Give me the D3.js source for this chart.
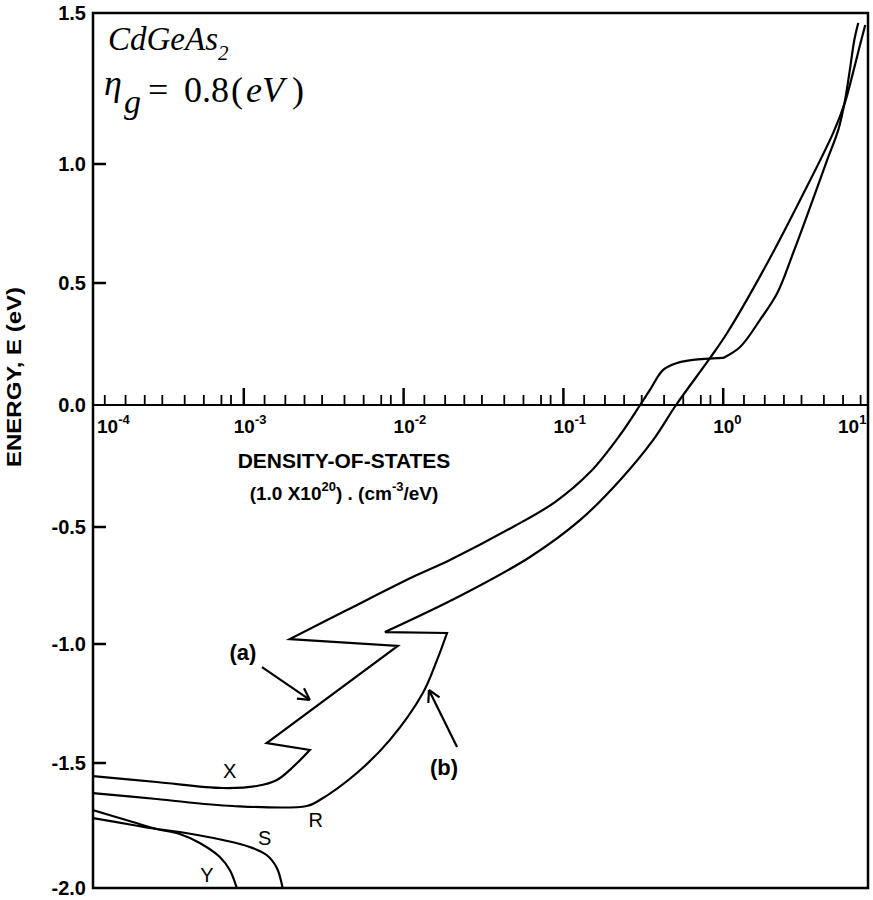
<!DOCTYPE html>
<html>
<head>
<meta charset="utf-8">
<script src="https://cdn.jsdelivr.net/npm/d3@7"></script>
<style>
  body { margin: 0; background: #fff; }
  svg { display: block; }
</style>
</head>
<body>
<div id="chart"></div>
<script>
// density of states (units of 1e20 cm^-3/eV) against energy (eV)
// a point given twice is a sharp corner of the drawn curve

// curve (a), passes the X label and runs up to the top right
const curveA = [
  [1.132e-4, -1.552], [2.85e-4, -1.576], [7.38e-4, -1.600], [1.205e-3, -1.592],
  [1.61e-3, -1.568], [2.03e-3, -1.516], [2.59e-3, -1.445], [2.59e-3, -1.445],
  [1.39e-3, -1.416], [1.39e-3, -1.416], [9.2e-3, -1.008], [9.2e-3, -1.008],
  [1.94e-3, -0.979], [1.94e-3, -0.979], [4.42e-3, -0.855], [1.14e-2, -0.714],
  [1.95e-2, -0.641], [4.83e-2, -0.500], [8.86e-2, -0.398], [0.147, -0.275],
  [0.226, -0.123], [0.302, 0.0], [0.348, 0.062], [0.421, 0.144], [0.514, 0.172],
  [0.647, 0.185], [1.0, 0.193], [1.0, 0.193], [1.276, 0.238], [1.70, 0.349],
  [2.18, 0.459], [2.74, 0.626], [3.50, 0.819], [4.47, 1.013], [5.25, 1.113],
  [5.79, 1.212], [6.24, 1.321], [6.61, 1.410], [7.0, 1.467]
];

// curve (b), passes the R corner
const curveB = [
  [1.132e-4, -1.620], [2.85e-4, -1.644], [8.53e-4, -1.672], [2.48e-3, -1.672],
  [2.99e-3, -1.648], [5.10e-3, -1.540], [8.21e-3, -1.403], [1.32e-2, -1.206],
  [1.62e-2, -1.067], [1.87e-2, -0.953], [1.87e-2, -0.953],
  [7.64e-3, -0.949], [7.64e-3, -0.949], [2.25e-2, -0.795],
  [6.18e-2, -0.628], [0.127, -0.472], [0.226, -0.308], [0.364, -0.144], [0.507, 0.0],
  [0.828, 0.193], [1.058, 0.295], [1.83, 0.567], [3.03, 0.849], [4.88, 1.103],
  [5.79, 1.205], [6.51, 1.305], [7.10, 1.384], [7.74, 1.460]
];

const curveY = [
  [1.132e-4, -1.688], [2.02e-4, -1.736], [2.85e-4, -1.764], [3.97e-4, -1.784],
  [5.30e-4, -1.820], [7.08e-4, -1.876], [8.17e-4, -1.928], [9.04e-4, -2.0]
];

const curveS = [
  [1.132e-4, -1.720], [2.02e-4, -1.748], [2.85e-4, -1.764], [3.97e-4, -1.776],
  [7.39e-4, -1.808], [1.09e-3, -1.836], [1.39e-3, -1.868], [1.61e-3, -1.920], [1.75e-3, -2.0]
];

const yTicks = [-2.0, -1.5, -1.0, -0.5, 0.0, 0.5, 1.0, 1.5];
const decades = [-4, -3, -2, -1, 0, 1];
// hand-drawn minor ticks sit at roughly these fractions of each decade
const minorOffsets = [0.13, 0.26, 0.38, 0.49, 0.63, 0.75, 0.86, 0.92];

// curve labels: [text, density, energy]
const curveLabels = [
  ['X', 8.17e-4, -1.56], ['R', 2.82e-3, -1.756],
  ['S', 1.35e-3, -1.828], ['Y', 5.87e-4, -1.976]
];
const arrowLabels = [
  ['(a)', 9.86e-4, -1.067], ['(b)', 1.79e-2, -1.548]
];
// arrows: tail then tip
const arrows = [
  [[1.30e-3, -1.097], [2.59e-3, -1.235]],
  [[2.16e-2, -1.433], [1.44e-2, -1.193]]
];

const W = 873, H = 900;
const plotL = 93, plotR = 868, plotT = 13, plotB = 888;

const svg = d3.select('#chart').append('svg')
  .attr('width', W).attr('height', H)
  .style('font-family', 'Liberation Sans, Arial, sans-serif');

const x = d3.scaleLog().domain([1e-4, 10]).range([84, 883]);
// the printed energy axis is not evenly spaced, so map it tick by tick
const y = d3.scaleLinear().domain(yTicks).range([888, 763, 644, 527, 405, 283, 164, 13]);

svg.append('clipPath').attr('id', 'clip')
  .append('rect').attr('x', plotL).attr('y', plotT)
  .attr('width', plotR - plotL).attr('height', plotB - plotT);

// frame
svg.append('rect')
  .attr('x', plotL).attr('y', plotT)
  .attr('width', plotR - plotL).attr('height', plotB - plotT)
  .attr('fill', 'none').attr('stroke', '#000').attr('stroke-width', 2.5);

// y ticks and labels
svg.selectAll('.ytick')
  .data(yTicks.filter(v => v !== 0 && v !== -2 && v !== 1.5))
  .enter().append('line')
  .attr('x1', plotL).attr('x2', plotL + 13)
  .attr('y1', d => y(d)).attr('y2', d => y(d))
  .attr('stroke', '#000').attr('stroke-width', 2.5);

svg.selectAll('.ylab')
  .data(yTicks)
  .enter().append('text')
  .attr('x', 86).attr('y', d => y(d)).attr('dy', '0.36em')
  .attr('text-anchor', 'end')
  .style('font-size', '20px').style('font-weight', 'bold')
  .text(d => d.toFixed(1));

svg.append('text')
  .attr('transform', 'translate(21,377) rotate(-90)')
  .attr('text-anchor', 'middle')
  .attr('textLength', 180).attr('lengthAdjust', 'spacingAndGlyphs')
  .style('font-size', '21px').style('font-weight', 'bold')
  .text('ENERGY, E (eV)');

// x axis drawn along E = 0
const y0 = y(0);
svg.append('line')
  .attr('x1', plotL).attr('x2', plotR).attr('y1', y0).attr('y2', y0)
  .attr('stroke', '#000').attr('stroke-width', 2.2);

const majors = decades.map(d => Math.pow(10, d)).filter(v => x(v) > plotL && x(v) < plotR);
const minors = [];
decades.forEach(d => minorOffsets.forEach(o => minors.push(Math.pow(10, d + o))));

svg.selectAll('.minor')
  .data(minors.filter(v => x(v) > plotL + 4 && x(v) < plotR - 4))
  .enter().append('line')
  .attr('x1', d => x(d)).attr('x2', d => x(d))
  .attr('y1', y0).attr('y2', y0 - 10)
  .attr('stroke', '#000').attr('stroke-width', 1.8);

svg.selectAll('.major')
  .data(majors)
  .enter().append('line')
  .attr('x1', d => x(d)).attr('x2', d => x(d))
  .attr('y1', y0).attr('y2', y0 - 17)
  .attr('stroke', '#000').attr('stroke-width', 2.5);

const xlab = svg.selectAll('.xlab')
  .data(decades)
  .enter().append('text')
  .attr('x', d => Math.max(97, Math.min(838, x(Math.pow(10, d)) - 10)))
  .attr('y', y0 + 28)
  .style('font-size', '19px').style('font-weight', 'bold');
xlab.append('tspan').text('10');
xlab.append('tspan').attr('dy', -9).style('font-size', '13px')
  .text(d => d < 0 ? '-' + (-d) : String(d));

svg.append('text')
  .attr('x', 344).attr('y', 468).attr('text-anchor', 'middle')
  .style('font-size', '21px').style('font-weight', 'bold')
  .text('DENSITY-OF-STATES');

const unit = svg.append('text')
  .attr('x', 344).attr('y', 500).attr('text-anchor', 'middle')
  .style('font-size', '19px').style('font-weight', 'bold');
unit.append('tspan').text('(1.0 X10');
unit.append('tspan').attr('dy', -9).style('font-size', '13px').text('20');
unit.append('tspan').attr('dy', 9).text(') . (cm');
unit.append('tspan').attr('dy', -9).style('font-size', '13px').text('-3');
unit.append('tspan').attr('dy', 9).text('/eV)');

// curves: centripetal Catmull-Rom keeps them smooth, doubled points stay sharp
const line = d3.line()
  .x(d => x(d[0])).y(d => y(d[1]))
  .curve(d3.curveCatmullRom.alpha(0.5));
svg.append('g').attr('clip-path', 'url(#clip)')
  .selectAll('path')
  .data([curveA, curveB, curveY, curveS])
  .enter().append('path')
  .attr('d', line)
  .attr('fill', 'none').attr('stroke', '#000')
  .attr('stroke-width', 2.2).attr('stroke-linejoin', 'miter');

svg.selectAll('.clab')
  .data(curveLabels)
  .enter().append('text')
  .attr('x', d => x(d[1])).attr('y', d => y(d[2]))
  .attr('text-anchor', 'middle')
  .style('font-size', '20px')
  .text(d => d[0]);

svg.selectAll('.alab')
  .data(arrowLabels)
  .enter().append('text')
  .attr('x', d => x(d[1])).attr('y', d => y(d[2]))
  .attr('text-anchor', 'middle')
  .style('font-size', '22px').style('font-weight', 'bold')
  .text(d => d[0]);

arrows.forEach(a => {
  const x1 = x(a[0][0]), y1 = y(a[0][1]), x2 = x(a[1][0]), y2 = y(a[1][1]);
  const ang = Math.atan2(y2 - y1, x2 - x1);
  const len = 13, spread = 0.5;
  svg.append('line')
    .attr('x1', x1).attr('y1', y1).attr('x2', x2).attr('y2', y2)
    .attr('stroke', '#000').attr('stroke-width', 2.2);
  [ang + Math.PI - spread, ang + Math.PI + spread].forEach(b => {
    svg.append('line')
      .attr('x1', x2).attr('y1', y2)
      .attr('x2', x2 + len * Math.cos(b)).attr('y2', y2 + len * Math.sin(b))
      .attr('stroke', '#000').attr('stroke-width', 2.2);
  });
});

// material and gap annotation
const serif = 'Liberation Serif, Times New Roman, serif';
const t1 = svg.append('text').attr('x', 108).attr('y', 50)
  .style('font-family', serif).style('font-style', 'italic').style('font-size', '33px');
t1.append('tspan').text('CdGeAs');
t1.append('tspan').attr('dy', 10).style('font-size', '21px').text('2');

svg.append('text').attr('x', 104).attr('y', 95)
  .style('font-family', serif).style('font-style', 'italic').style('font-size', '36px')
  .text('η');
svg.append('text').attr('x', 124).attr('y', 113)
  .style('font-family', serif).style('font-style', 'italic').style('font-size', '34px')
  .text('g');
const t2 = svg.append('text').attr('y', 102)
  .style('font-family', serif).style('font-size', '36px');
t2.append('tspan').attr('x', 148).text('=');
t2.append('tspan').attr('x', 184).text('0.8');
t2.append('tspan').attr('x', 231).text('(');
t2.append('tspan').attr('x', 246).style('font-style', 'italic').text('eV');
t2.append('tspan').attr('x', 292).text(')');
</script>
</body>
</html>
